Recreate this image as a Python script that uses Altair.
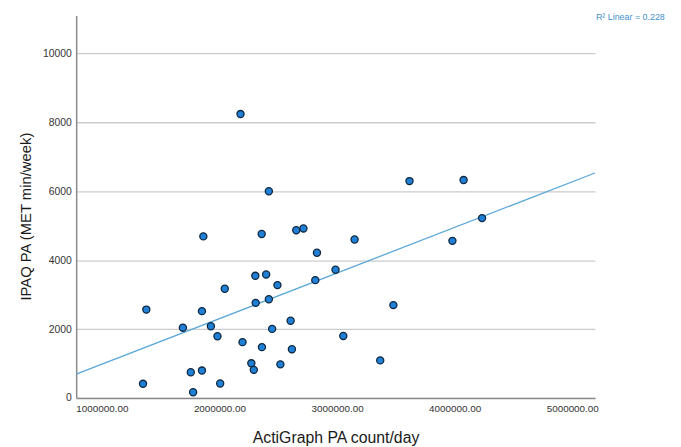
import altair as alt
import pandas as pd

# ActiGraph PA count/day
counts = [2179000, 2420000, 1863000, 2359000, 2653000, 2714000, 3149000, 2829000,
          2987000, 2305000, 2397000, 2493000, 2815000, 2045000, 2420000, 2308000,
          1378000, 1851000, 1689000, 1927000, 2448000, 2605000, 1983000, 3053000,
          2196000, 2361000, 2616000, 2271000, 2518000, 2292000, 1756000, 1851000,
          1350000, 2006000, 1776000, 3479000, 3367000, 3616000, 4076000, 4233000,
          3981000]
# IPAQ PA (MET min/week)
met = [8240, 6000, 4690, 4760, 4870, 4920, 4600, 4215,
       3720, 3545, 3585, 3275, 3420, 3170, 2865, 2760,
       2565, 2520, 2040, 2080, 2005, 2240, 1790, 1800,
       1620, 1475, 1415, 1005, 975, 815, 745, 795,
       410, 420, 165, 2695, 1090, 6295, 6325, 5220,
       4560]

x_ticks = [1000000, 2000000, 3000000, 4000000, 5000000]
y_ticks = [0, 2000, 4000, 6000, 8000, 10000]
x_domain = [781500, 5193000]
y_domain = [0, 11100]
r2_label = ["R\u00b2 Linear = 0.228"]

df = pd.DataFrame({"count": counts, "met": met})

FONT = "Liberation Sans"

x_enc = alt.X("count:Q",
              scale=alt.Scale(domain=x_domain, nice=False, zero=False),
              axis=alt.Axis(values=x_ticks, format=".2f", grid=False, ticks=False,
                            title="ActiGraph PA count/day", labelFontSize=10,
                            labelPadding=6, titleFontSize=16, titlePadding=16,
                            labelColor="#333333", titleColor="#1a1a1a",
                            titleFontWeight="normal", labelFont=FONT, titleFont=FONT))
y_enc = alt.Y("met:Q",
              scale=alt.Scale(domain=y_domain, nice=False, zero=True),
              axis=alt.Axis(values=y_ticks, format="d", grid=True, ticks=False,
                            title="IPAQ PA (MET min/week)", labelFontSize=10.5,
                            labelPadding=5, titleFontSize=15, titlePadding=9,
                            labelColor="#333333", titleColor="#1a1a1a",
                            titleFontWeight="normal", titleY=203,
                            labelFont=FONT, titleFont=FONT))

base = alt.Chart(df)

line = base.transform_regression("count", "met", extent=x_domain).mark_line(
    color="#5ba7d8", strokeWidth=1.3
).encode(x=x_enc, y=y_enc)

points = base.mark_circle(size=52, color="#1f80d6", opacity=1,
                          stroke="#0f2740", strokeWidth=1.3).encode(x=x_enc, y=y_enc)

label = alt.Chart(pd.DataFrame({"label": r2_label})).mark_text(
    align="left", baseline="middle", fontSize=9, color="#3f8fcb", font=FONT
).encode(text="label:N", x=alt.value(526), y=alt.value(2))

chart = alt.layer(line, points, label).properties(
    width=525, height=387,
    autosize=alt.AutoSizeParams(type="none"),
    padding={"left": 69, "top": 5, "right": 79, "bottom": 47},
    background="white",
).configure_view(stroke=None).configure_axis(
    domainColor="#8a8a8a", domainWidth=1.5, gridColor="#cccccc", gridWidth=1.3
)

chart.save("out.html", embed_options={"renderer": "svg", "actions": False})
